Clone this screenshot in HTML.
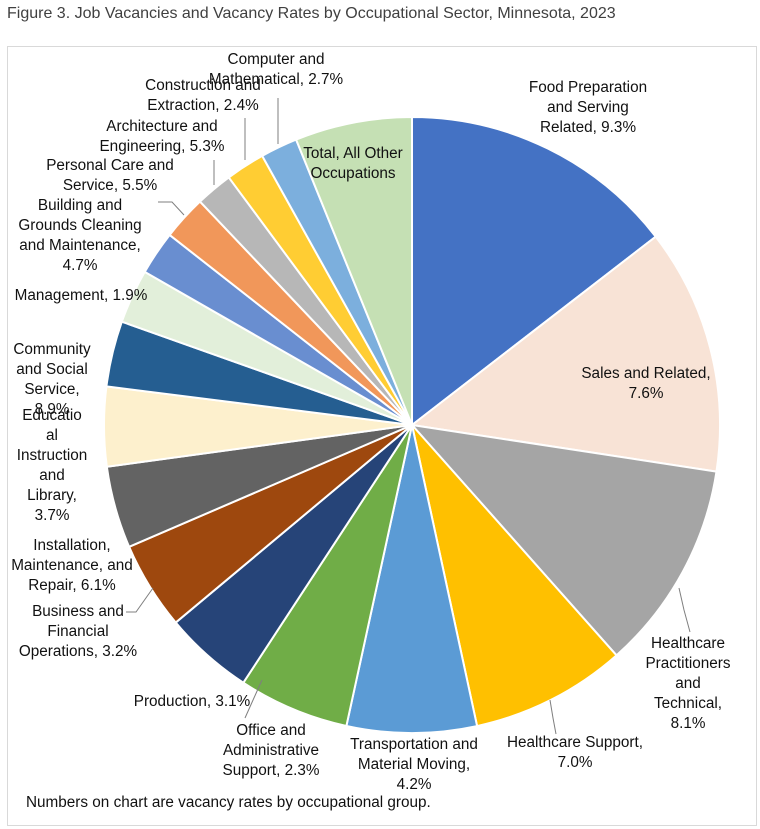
<!DOCTYPE html>
<html><head><meta charset="utf-8"><style>
body{margin:0;background:#fff;width:760px;height:829px;overflow:hidden;font-family:"Liberation Sans",sans-serif}
.t{position:absolute;left:7px;top:5px;font-size:16px;color:#404040}
svg{position:absolute;left:0;top:0}
text{font-family:"Liberation Sans",sans-serif;font-size:15.3px;fill:#111}
</style></head><body>
<div class="t">Figure 3. Job Vacancies and Vacancy Rates by Occupational Sector, Minnesota, 2023</div>
<svg width="760" height="829" id="s">
<rect x="7.5" y="46.5" width="749" height="779" fill="none" stroke="#d9d9d9"/>
<g id="p"></g>
<g stroke="#7f7f7f" stroke-width="1" fill="none">
<polyline points="679,588 684,610 690,632"/>
<polyline points="550,700 553,718 556,734"/>
<polyline points="278,144 278,98"/>
<polyline points="245,160 245,118"/>
<polyline points="214,185 214,160"/>
<polyline points="184,215 172,202 158,202"/>
<polyline points="153,588 136,612 126,612"/>
<polyline points="262,680 245,718"/>
</g>
<g text-anchor="middle">
<text x="588" y="92">Food Preparation</text><text x="588" y="112">and Serving</text><text x="588" y="132">Related, 9.3%</text>
<text x="646" y="378">Sales and Related,</text><text x="646" y="398">7.6%</text>
<text x="688" y="648">Healthcare</text><text x="688" y="668">Practitioners</text><text x="688" y="688">and</text><text x="688" y="708">Technical,</text><text x="688" y="728">8.1%</text>
<text x="575" y="747">Healthcare Support,</text><text x="575" y="767">7.0%</text>
<text x="414" y="749">Transportation and</text><text x="414" y="769">Material Moving,</text><text x="414" y="789">4.2%</text>
<text x="271" y="735">Office and</text><text x="271" y="755">Administrative</text><text x="271" y="775">Support, 2.3%</text>
<text x="192" y="706">Production, 3.1%</text>
<text x="78" y="616">Business and</text><text x="78" y="636">Financial</text><text x="78" y="656">Operations, 3.2%</text>
<text x="72" y="550">Installation,</text><text x="72" y="570">Maintenance, and</text><text x="72" y="590">Repair, 6.1%</text>
<text x="52" y="420">Educatio</text><text x="52" y="440">al</text><text x="52" y="460">Instruction</text><text x="52" y="480">and</text><text x="52" y="500">Library,</text><text x="52" y="520">3.7%</text>
<text x="52" y="354">Community</text><text x="52" y="374">and Social</text><text x="52" y="394">Service,</text><text x="52" y="414">8.9%</text>
<text x="81" y="300">Management, 1.9%</text>
<text x="80" y="210">Building and</text><text x="80" y="230">Grounds Cleaning</text><text x="80" y="250">and Maintenance,</text><text x="80" y="270">4.7%</text>
<text x="110" y="170">Personal Care and</text><text x="110" y="190">Service, 5.5%</text>
<text x="162" y="131">Architecture and</text><text x="162" y="151">Engineering, 5.3%</text>
<text x="203" y="90">Construction and</text><text x="203" y="110">Extraction, 2.4%</text>
<text x="276" y="64">Computer and</text><text x="276" y="84">Mathematical, 2.7%</text>
<text x="353" y="158">Total, All Other</text><text x="353" y="178">Occupations</text>
</g>
<text x="26" y="807">Numbers on chart are vacancy rates by occupational group.</text>
</svg>
<script>
var cx=412,cy=425,r=308;
var b=[0,52.3,98.7,138.4,167.8,192.3,213.2,230.1,246.7,262.2,277.2,289.6,299.8,308.1,316.5,323.5,330.9,337.9,360];
var c=["#4472C4","#F8E3D6","#A5A5A5","#FFC000","#5B9BD5","#70AD47","#264478","#9E480E","#636363","#FDF0CD","#255E91","#E2EFDA","#698ED0","#F1975A","#B7B7B7","#FFCD33","#7CAFDD","#C5E0B4"];
var g=document.getElementById('p'),h='';
function pt(a){a=a*Math.PI/180;return (cx+r*Math.sin(a)).toFixed(2)+','+(cy-r*Math.cos(a)).toFixed(2);}
for(var i=0;i<18;i++){var l=(b[i+1]-b[i])>180?1:0;
h+='<path d="M'+cx+','+cy+' L'+pt(b[i])+' A'+r+','+r+' 0 '+l+' 1 '+pt(b[i+1])+' Z" fill="'+c[i]+'" stroke="#fff" stroke-width="2" stroke-linejoin="round"/>';}
g.innerHTML=h;
</script>
</body></html>
